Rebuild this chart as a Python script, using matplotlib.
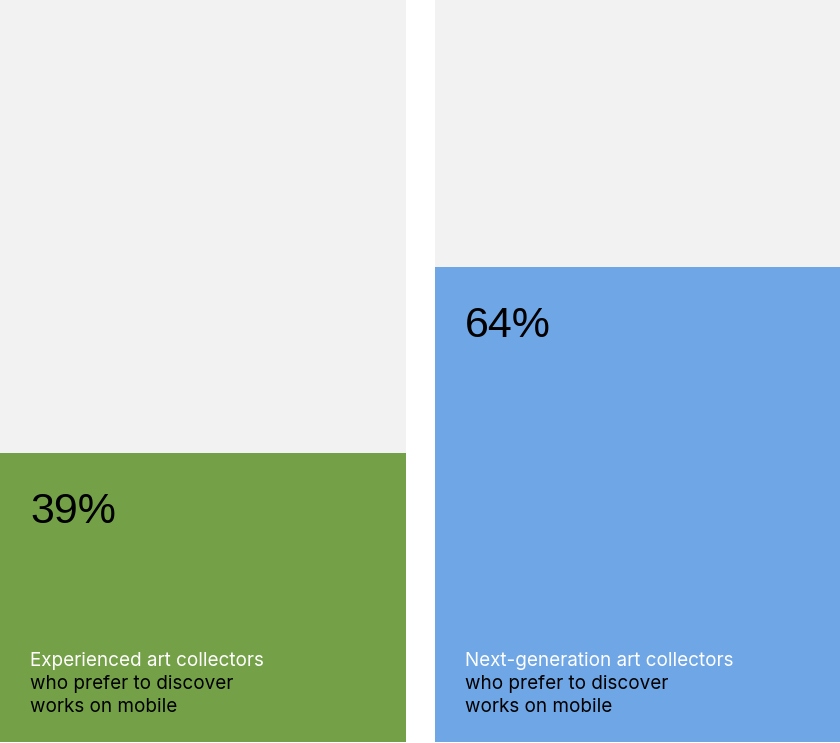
from matplotlib import pyplot as plt

# values (share of collectors, %)
groups = ["Experienced", "Next-generation"]
values = [39, 64]
colors = ["#74a147", "#6fa6e5"]
first_lines = ["Experienced art collectors", "Next-generation art collectors"]
rest_lines = ["who prefer to discover", "works on mobile"]

plt.rcParams["font.family"] = ["Inter", "DejaVu Sans"]

fig = plt.figure(figsize=(8.4, 7.43), dpi=100)
fig.patch.set_facecolor("white")

W, H = 840, 743
# column boxes in pixels: (left, width)
cols = [(0, 406), (435, 405)]

for i in range(len(values)):
    left, width = cols[i]
    ax = fig.add_axes([left / W, 1 / H, width / W, 742 / H])
    ax.bar(0, 100, width=1, color="#f2f2f2", linewidth=0)
    ax.bar(0, values[i], width=1, color=colors[i], linewidth=0)
    ax.set_xlim(-0.5, 0.5)
    ax.set_ylim(0, 100)
    ax.axis("off")

    ax.annotate(f"{values[i]}%", xy=(-0.5, values[i]), xytext=(30, -70),
                textcoords="offset pixels", fontsize=31, color="black",
                family=["Liberation Sans", "DejaVu Sans"],
                ha="left", va="baseline")

    ax.annotate(first_lines[i], xy=(0, 0), xycoords="axes fraction",
                xytext=(30, 76), textcoords="offset pixels", fontsize=13.6,
                color="white", ha="left", va="baseline")
    for j, line in enumerate(rest_lines):
        ax.annotate(line, xy=(0, 0), xycoords="axes fraction",
                    xytext=(30, 53 - 23 * j), textcoords="offset pixels",
                    fontsize=13.6, color="black", ha="left", va="baseline")

fig.savefig("out.png", dpi=100)
